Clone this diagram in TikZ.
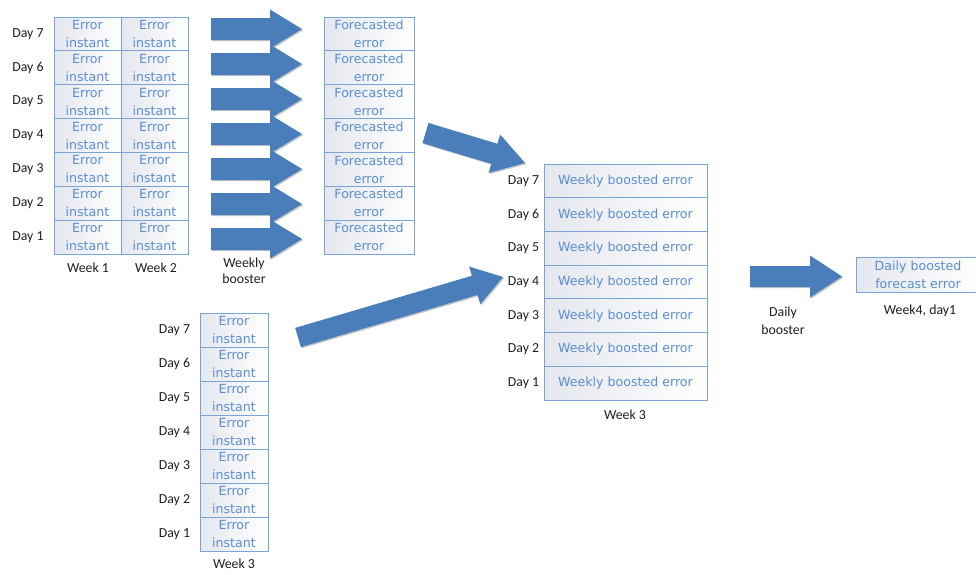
\documentclass[tikz,border=0pt]{standalone}
\usepackage{fontspec}
\setmainfont{Carlito}
\newfontfamily\boxfamily{DejaVu Sans}
\usetikzlibrary{calc,shadows}
\definecolor{arrowfill}{HTML}{4A7EBB}
\definecolor{boxtext}{HTML}{5B8ED0}
\definecolor{boxline}{HTML}{7BA4D6}
\definecolor{boxgrey}{HTML}{E4E7EE}
\definecolor{lbltext}{HTML}{1E1E1E}
\newcommand{\myarrow}[5]{%
  \coordinate (ba-t) at #1;
  \coordinate (ba-h) at #2;
  \coordinate (ba-b) at ($(ba-h)!#5!(ba-t)$);
  \fill[arrowshape]
    ($(ba-t)!#3!90:(ba-h)$) --
    ($(ba-b)!#3!-90:(ba-t)$) --
    ($(ba-b)!#4!-90:(ba-t)$) --
    (ba-h) --
    ($(ba-b)!#4!90:(ba-t)$) --
    ($(ba-b)!#3!90:(ba-t)$) --
    ($(ba-t)!#3!-90:(ba-h)$) -- cycle;
}
\tikzset{
  cell/.style={draw=boxline, line width=0.8pt, left color=boxgrey, middle color=white, right color=white,
    text=boxtext, font=\boxfamily\fontsize{12.6}{18}\selectfont, align=center,
    inner sep=0pt, anchor=center},
  lbl/.style={text=lbltext, font=\fontsize{13.8}{16}\selectfont, inner sep=0pt, align=center},
  arrowshape/.style={fill=arrowfill, drop shadow={shadow xshift=1.2pt, shadow yshift=-1.2pt, opacity=0.22, fill=black}}
}
\begin{document}
\begin{tikzpicture}[x=1pt, y=-1pt]
\useasboundingbox (0,0) rectangle (976,574);
% ---- Week 1 / Week 2 grid and forecasted column
\foreach \i in {0,...,6} {
  \pgfmathsetmacro\yy{17+33.857*(\i+0.5)}
  \pgfmathtruncatemacro\dd{7-\i}
  \node[lbl] (dA\dd) at (28,\yy) {Day \dd};
  \node[cell, minimum width=67pt, minimum height=33.857pt] (wA\dd) at (87.5,\yy) {Error\\instant};
  \node[cell, minimum width=67pt, minimum height=33.857pt] (wB\dd) at (154.5,\yy) {Error\\instant};
  \node[cell, minimum width=90pt, minimum height=33.857pt] (fc\dd) at (369,\yy) {Forecasted\\error};
}
\node[lbl] (wk1) at (88,268) {Week 1};
\node[lbl] (wk2) at (156,268) {Week 2};
% weekly booster arrows
\foreach \i in {0,...,6} {
  \pgfmathsetmacro\cy{29+35*\i}
  \myarrow{(211,\cy)}{(302,\cy)}{11pt}{19.5pt}{32pt}
}
\node[lbl] (wbooster) at (244,271) {Weekly\\booster};
% ---- Week 3 boosted column
\foreach \i in {0,...,6} {
  \pgfmathsetmacro\yy{164+33.714*(\i+0.5)}
  \pgfmathtruncatemacro\dd{7-\i}
  \node[lbl] (dC\dd) at (523.5,\yy) {Day \dd};
  \node[cell, minimum width=163pt, minimum height=33.714pt] (wb\dd) at (625.5,\yy) {Weekly boosted error};
}
\node[lbl] (wk3r) at (625,415) {Week 3};
% ---- bottom Week 3 column
\foreach \i in {0,...,6} {
  \pgfmathsetmacro\yy{313+34*(\i+0.5)}
  \pgfmathtruncatemacro\dd{7-\i}
  \node[lbl] (dD\dd) at (174.5,\yy) {Day \dd};
  \node[cell, minimum width=68pt, minimum height=34pt] (wc\dd) at (234,\yy) {Error\\instant};
}
\node[lbl] (wk3b) at (234,564) {Week 3};
% big arrows
\myarrow{(425.5,133)}{(525,163)}{10.5pt}{20pt}{32pt}
\myarrow{(298,337.5)}{(503,277)}{10pt}{19.6pt}{29.5pt}
% daily booster
\myarrow{(750,276.5)}{(842,276.5)}{10.5pt}{21pt}{32pt}
\node[lbl, font=\fontsize{13.8}{18}\selectfont] (dbooster) at (783,321) {Daily\\booster};
\node[cell, minimum width=124pt, minimum height=35pt] (dbox) at (918,274.5) {Daily boosted\\forecast error};
\node[lbl] (wk4) at (920,311) {Week4, day1};
\end{tikzpicture}
\end{document}
